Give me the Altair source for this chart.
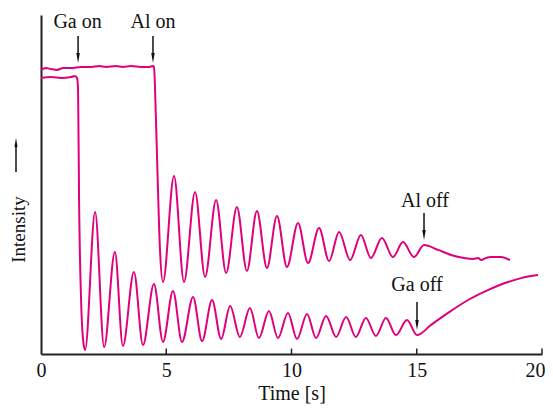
import altair as alt
import pandas as pd

# ---- data (time in s, intensity in arbitrary units) ----
t_ga = [0, 0.40, 0.80, 1.20, 1.36, 1.44, 1.48, 1.52, 1.60, 1.68, 1.76,
        2.16, 2.52, 2.95, 3.27, 3.71, 4.07, 4.51, 4.87, 5.27, 5.63, 6.07, 6.43,
        6.83, 7.19, 7.55, 7.94, 8.34, 8.70, 9.10, 9.46, 9.86, 10.22, 10.62, 10.98,
        11.38, 11.78, 12.18, 12.57, 12.97, 13.37, 13.77, 14.17, 14.61, 15.01,
        15.57, 16.25, 17.05, 17.84, 18.64, 19.16, 19.84]
i_ga = [92.0, 92.3, 92.0, 92.3, 92.7, 92.0, 88.0, 51.3, 18.0, 4.7, 1.3,
        47.3, 2.3, 34.0, 2.7, 27.3, 3.0, 23.3, 4.0, 21.0, 4.0, 19.0, 4.3,
        18.0, 5.0, 16.0, 5.7, 15.3, 5.3, 14.3, 5.3, 13.7, 5.0, 13.3, 5.3,
        12.7, 5.7, 12.3, 5.7, 12.0, 6.0, 12.0, 6.3, 11.3, 6.3,
        9.7, 13.7, 18.0, 21.3, 24.0, 25.3, 26.3]

t_al = [0, 0.20, 0.40, 0.64, 0.88, 1.20, 1.60, 2.00, 2.32, 2.59, 2.99, 3.27,
        3.59, 3.99, 4.31, 4.47, 4.51, 4.59, 4.67, 4.75,
        4.87, 5.31, 5.71, 6.15, 6.55, 6.99, 7.39, 7.82, 8.22, 8.62, 9.02, 9.42,
        9.82, 10.26, 10.66, 11.10, 11.50, 11.90, 12.34, 12.77, 13.17, 13.61,
        14.05, 14.45, 14.89, 15.29,
        15.85, 16.37, 16.89, 17.25, 17.45, 17.57, 17.76, 17.96, 18.36, 18.72]
i_al = [94.7, 95.3, 95.0, 94.7, 95.3, 95.3, 95.7, 95.7, 96.0, 95.7, 96.0, 95.7,
        96.0, 95.7, 95.7, 96.0, 95.7, 78.0, 54.7, 34.7,
        24.0, 59.3, 24.0, 54.0, 25.7, 51.3, 27.0, 49.0, 27.7, 47.7, 28.7, 46.0,
        29.0, 43.7, 30.3, 42.0, 31.0, 40.7, 31.3, 39.7, 32.0, 38.7,
        32.3, 37.3, 32.3, 36.3,
        34.7, 33.0, 32.0, 31.7, 32.0, 31.3, 32.0, 32.3, 32.3, 31.3]

x_ticks = [0, 5, 10, 15, 20]
inner_ticks = [5, 10, 15, 20]

label_text = ["Ga on", "Al on", "Al off", "Ga off"]
label_t = [1.46, 4.47, 15.33, 15.01]
label_i = [108.7, 108.7, 49.0, 21.0]
arrow_t = [1.48, 4.47, 15.29, 15.01]
arrow_top = [106.0, 106.0, 47.0, 17.3]
arrow_head = [98.7, 98.7, 39.7, 9.7]

# ---- tables ----
curves = pd.concat([
    pd.DataFrame({"t": t_ga, "I": i_ga, "series": "Ga", "k": range(len(t_ga))}),
    pd.DataFrame({"t": t_al, "I": i_al, "series": "Al", "k": range(len(t_al))}),
])
ann = pd.DataFrame({"label": label_text, "lt": label_t, "li": label_i,
                    "at": arrow_t, "atop": arrow_top, "ahead": arrow_head})
ticks_df = pd.DataFrame({"t": inner_ticks})

FONT = "Liberation Serif"
MAG = "#E0007C"
INK = "#111"
x_scale = alt.Scale(domain=[0, 20], nice=False, zero=False)
y_scale = alt.Scale(domain=[0, 113], nice=False)

lines = alt.Chart(curves).mark_line(
    interpolate="monotone", color=MAG, strokeWidth=2
).encode(
    x=alt.X("t:Q", scale=x_scale,
            axis=alt.Axis(values=x_ticks, title="Time [s]", ticks=False, grid=False,
                          labelFlush=False, labelPadding=6, titlePadding=3, format="d",
                          labelAlign=alt.ExprRef("datum.value == 20 ? 'right' : 'center'"),
                          labelOffset=alt.ExprRef("datum.value == 20 ? 3 : 0"))),
    y=alt.Y("I:Q", scale=y_scale,
            axis=alt.Axis(title="Intensity", labels=False, ticks=False, grid=False,
                          titleAngle=270, titleX=-17, titleY=214,
                          titleFontSize=19,
                          titleAlign="center", titleBaseline="alphabetic")),
    detail="series:N",
    order="k:Q",
)

tick_rules = alt.Chart(ticks_df).mark_rule(color="#222", strokeWidth=1.5).encode(
    x=alt.X("t:Q", scale=x_scale),
    y=alt.datum(0),
    y2=alt.datum(1.8),
)

# arrow next to the y-axis title
title_arrow = alt.Chart(ticks_df.head(1)).mark_rule(color=INK, strokeWidth=1.5).encode(
    x=alt.value(-25), y=alt.value(157), y2=alt.value(130),
)
title_arrow_head = alt.Chart(ticks_df.head(1)).mark_point(
    shape="M0,-1L-0.35,1L0.35,1Z", filled=True, color=INK, size=81, opacity=1
).encode(x=alt.value(-25), y=alt.value(127.5))

arrow_lines = alt.Chart(ann).mark_rule(color=INK, strokeWidth=1.5).encode(
    x=alt.X("at:Q", scale=x_scale),
    y=alt.Y("atop:Q", scale=y_scale),
    y2="ahead:Q",
)

arrow_heads = alt.Chart(ann).mark_point(
    shape="M0,1L-0.35,-1L0.35,-1Z", filled=True, color=INK, size=100, opacity=1
).encode(
    x=alt.X("at:Q", scale=x_scale),
    y=alt.Y("ahead:Q", scale=y_scale),
)

labels = alt.Chart(ann).mark_text(
    font=FONT, fontSize=20, color=INK, align="center", baseline="alphabetic"
).encode(
    x=alt.X("lt:Q", scale=x_scale),
    y=alt.Y("li:Q", scale=y_scale),
    text="label:N",
)

chart = alt.layer(lines, tick_rules, title_arrow, title_arrow_head,
                  arrow_lines, arrow_heads, labels).properties(
    width=501, height=339,
    autosize=alt.AutoSizeParams(type="none"),
    padding={"left": 33, "top": 7, "right": 3, "bottom": 50},
).configure_view(stroke=None).configure_axis(
    domainColor="#222", domainWidth=2,
    labelFont=FONT, labelFontSize=20, labelColor=INK,
    titleFont=FONT, titleFontSize=20, titleFontWeight="normal", titleColor=INK,
)

chart.save("out.html", embed_options={"renderer": "svg", "actions": False})
